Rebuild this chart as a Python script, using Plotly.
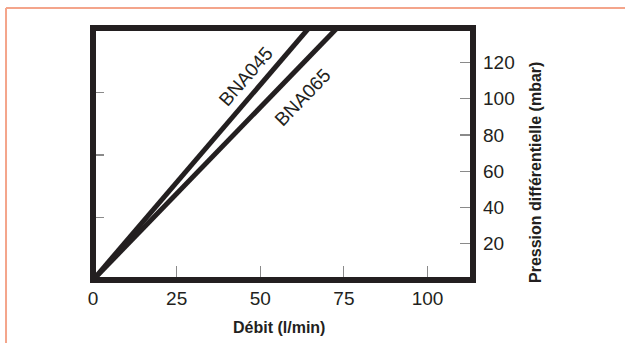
import plotly.graph_objects as go

# Data
flow_bna045 = [0, 65]          # l/min
press_bna045 = [0, 140]        # mbar
flow_bna065 = [0, 73.5]
press_bna065 = [0, 140]

x_ticks = [0, 25, 50, 75, 100]
y_ticks = [20, 40, 60, 80, 100, 120]
psi_ticks = [0.5, 1.0, 1.5, 2.0]

x_max = 113.6
y_max = 139
MBAR_PER_PSI = 68.948

DARK = "#231f20"
FONT = "Liberation Sans, Arial, Helvetica, sans-serif"

fig = go.Figure()
for fx, py, name in [(flow_bna045, press_bna045, "BNA045"), (flow_bna065, press_bna065, "BNA065")]:
    fig.add_trace(go.Scatter(x=fx, y=py, mode="lines", name=name,
                             line=dict(color=DARK, width=5), showlegend=False,
                             hoverinfo="skip"))

# invisible trace for secondary (psi) axis
fig.add_trace(go.Scatter(x=[0], y=[0], yaxis="y2", mode="markers",
                         marker=dict(opacity=0), showlegend=False, hoverinfo="skip"))

fig.update_layout(
    width=625, height=343,
    margin=dict(l=93, r=152, t=28, b=63, pad=0),
    paper_bgcolor="white", plot_bgcolor="white",
    font=dict(family=FONT, color=DARK),
    xaxis=dict(range=[0, x_max], tickvals=x_ticks, ticks="inside", ticklen=14,
               tickcolor="#8a8a8a", tickwidth=1.2, showgrid=False, zeroline=False,
               showline=False, tickfont=dict(size=19, color=DARK),
               ticklabelstandoff=5, fixedrange=True),
    yaxis=dict(range=[0, y_max], tickvals=y_ticks, side="right", ticks="inside",
               ticklen=13, tickcolor="#8a8a8a", tickwidth=1.2, showgrid=False,
               zeroline=False, showline=False, tickfont=dict(size=19, color=DARK),
               ticklabelstandoff=9, fixedrange=True),
    yaxis2=dict(range=[0, y_max / MBAR_PER_PSI], tickvals=psi_ticks, overlaying="y",
                side="left", ticks="inside", ticklen=11, tickcolor="#8a8a8a",
                tickwidth=1.2, showticklabels=False, showgrid=False, zeroline=False,
                showline=False, fixedrange=True),
    shapes=[
        dict(type="rect", xref="paper", yref="paper", x0=0, x1=1, y0=0, y1=1,
             line=dict(color=DARK, width=6), layer="above"),
        dict(type="line", xref="paper", yref="paper", x0=-0.2289, x1=1.4,
             y0=1.0794, y1=1.0794, line=dict(color="#f4a58b", width=2)),
        dict(type="line", xref="paper", yref="paper", x0=-0.2289, x1=-0.2289,
             y0=1.0794, y1=-0.3, line=dict(color="#f4a58b", width=2)),
    ],
    annotations=[
        dict(text="BNA045", x=45.6, y=112.5, xref="x", yref="y", showarrow=False,
             textangle=-49, font=dict(size=19, color=DARK),
             xanchor="center", yanchor="middle"),
        dict(text="BNA065", x=62.6, y=100.9, xref="x", yref="y", showarrow=False,
             textangle=-46, font=dict(size=19, color=DARK),
             xanchor="center", yanchor="middle"),
        dict(text="<b>Débit (l/min)</b>", x=(279 - 93) / 380, y=(280 - 327) / 252,
             xref="paper", yref="paper", showarrow=False,
             font=dict(size=16, color=DARK), xanchor="center", yanchor="middle"),
        dict(text="<b>Pression différentielle (mbar)</b>", x=(535 - 93) / 380,
             y=(280 - 173) / 252, xref="paper", yref="paper", showarrow=False,
             textangle=-90, font=dict(size=16, color=DARK),
             xanchor="center", yanchor="middle"),
    ],
)

fig.write_html("out.html", config={"displayModeBar": False, "staticPlot": True},
               post_script="document.body.style.margin='0px';")
